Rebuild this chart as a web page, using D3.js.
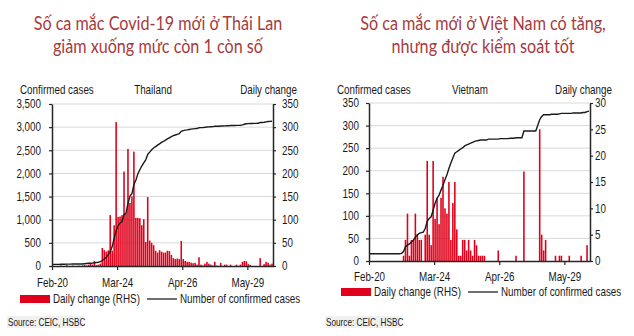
<!DOCTYPE html>
<html>
<head>
<meta charset="utf-8">
<script src="https://cdn.jsdelivr.net/npm/d3@7"></script>
<style>
  body { margin: 0; background: #fff; }
  svg text { font-family: "Liberation Sans", Arial, sans-serif; fill: #1a1a1a; }
  svg text.title { font-family: Lato, "Noto Sans", sans-serif; fill: #a63a3d; }
</style>
</head>
<body>
<svg id="chart" width="634" height="336"></svg>
<script>
// first day of both series, and where the x axis ends
const startDate = new Date(2020, 1, 20);
const endDate = new Date(2020, 5, 11);
const tickDates = [new Date(2020, 1, 20), new Date(2020, 2, 24), new Date(2020, 3, 26), new Date(2020, 4, 29)];

// Thailand, one value per day from Feb-20
const thaiDaily = [
  0, 0, 0, 0, 1, 0, 0, 2, 0, 0,
  1, 0, 0, 1, 0, 1, 2, 1, 3, 5,
  3, 11, 2, 3, 5, 39, 34, 31, 34, 110,
  33, 88, 311, 106, 107, 110, 204, 113, 253, 136,
  150, 247, 104, 104, 103, 88, 101, 52, 149, 55,
  50, 45, 33, 29, 34, 31, 29, 29, 33, 32,
  24, 17, 15, 16, 15, 54, 15, 11, 9, 9,
  7, 6, 7, 3, 19, 3, 1, 5, 9, 5,
  3, 1, 9, 1, 0, 7, 0, 3, 3, 0,
  3, 0, 0, 3, 0, 3, 9, 11, 10, 4,
  2, 0, 0, 0, 0, 17, 0, 4, 9, 7,
  3, 5
];
const thaiConfirmed = [
  35, 35, 35, 35, 37, 37, 37, 40, 40, 40,
  42, 42, 42, 44, 44, 44, 50, 55, 58, 60,
  62, 70, 75, 82, 93, 118, 150, 190, 240, 310,
  420, 600, 760, 870, 930, 960, 1110, 1140, 1350, 1510,
  1560, 1760, 1850, 1990, 2080, 2160, 2230, 2290, 2410, 2460,
  2510, 2550, 2580, 2610, 2640, 2670, 2690, 2720, 2745, 2770,
  2795, 2815, 2830, 2845, 2860, 2910, 2925, 2935, 2942, 2950,
  2957, 2963, 2968, 2970, 2988, 2990, 2991, 2995, 3002, 3006,
  3010, 3012, 3018, 3019, 3019, 3025, 3025, 3028, 3031, 3031,
  3034, 3034, 3035, 3038, 3038, 3042, 3050, 3062, 3072, 3076,
  3078, 3080, 3081, 3082, 3083, 3100, 3101, 3105, 3114, 3121,
  3125, 3128
];

// Vietnam, one value per day from Feb-20
const vietDaily = [
  0, 0, 0, 0, 0, 0, 0, 0, 0, 0,
  0, 0, 0, 0, 0, 0, 0, 1, 4, 9,
  1, 4, 4, 9, 5, 4, 4, 0, 5, 19,
  5, 3, 19, 8, 12, 7, 12, 16, 10, 9,
  15, 4, 11, 15, 6, 1, 1, 4, 4, 2,
  4, 2, 1, 4, 3, 1, 1, 1, 1, 0,
  0, 0, 0, 0, 0, 2, 0, 0, 0, 0,
  0, 0, 0, 0, 1, 0, 0, 0, 17, 0,
  0, 0, 0, 0, 0, 0, 25, 5, 2, 4,
  0, 0, 0, 0, 1, 0, 1, 1, 0, 0,
  0, 1, 0, 0, 0, 0, 0, 1, 0, 0,
  3, 0
];
const vietConfirmed = [
  16, 16, 16, 16, 16, 16, 16, 16, 16, 16,
  16, 16, 16, 16, 16, 16, 17, 21, 32, 35,
  38, 42, 46, 53, 58, 61, 63, 64, 72, 88,
  94, 98, 113, 128, 139, 146, 157, 168, 180, 191,
  205, 217, 228, 239, 242, 245, 248, 251, 255, 257,
  259, 261, 263, 265, 266, 267, 268, 268, 268, 268,
  270, 270, 270, 270, 270, 270, 271, 271, 271, 271,
  271, 272, 272, 272, 273, 273, 273, 273, 288, 288,
  288, 288, 288, 288, 288, 300, 313, 320, 324, 324,
  324, 324, 325, 325, 325, 325, 326, 327, 327, 327,
  327, 327, 327, 328, 328, 328, 328, 328, 329, 329,
  331, 332
];

const thaiLeftTicks = [0, 500, 1000, 1500, 2000, 2500, 3000, 3500];
const thaiRightTicks = [0, 50, 100, 150, 200, 250, 300, 350];
const vietLeftTicks = [0, 50, 100, 150, 200, 250, 300, 350];
const vietRightTicks = [0, 5, 10, 15, 20, 25, 30];

const barColor = "#e0001b";
const lineColor = "#1a1a1a";
const axisColor = "#262626";

const svg = d3.select("#chart");

const panels = [
  {
    title: ["Số ca mắc Covid-19 mới ở Thái Lan", "giảm xuống mức còn 1 còn số"],
    titleX: 158,
    name: "Thailand", nameX: 153,
    left: 52, right: 273, top: 104, bottom: 266,
    daily: thaiDaily, confirmed: thaiConfirmed,
    leftTicks: thaiLeftTicks, rightTicks: thaiRightTicks,
    leftPad: 8, rightPad: 6, xPad: 8,
    headLeft: 20, headRight: 297,
    legendY: 299, legendX: 20,
    sourceX: 8
  },
  {
    title: ["Số ca mắc mới ở Việt Nam có tăng,", "nhưng được kiểm soát tốt"],
    titleX: 483,
    name: "Vietnam", nameX: 470,
    left: 369, right: 590, top: 103, bottom: 261,
    daily: vietDaily, confirmed: vietConfirmed,
    leftTicks: vietLeftTicks, rightTicks: vietRightTicks,
    leftPad: 7, rightPad: 2, xPad: 7,
    headLeft: 337, headRight: 612,
    legendY: 292, legendX: 341,
    sourceX: 326
  }
];

function drawPanel(p) {
  const g = svg.append("g");

  const x = d3.scaleTime().domain([startDate, endDate]).range([p.left, p.right]);
  const yL = d3.scaleLinear().domain([0, d3.max(p.leftTicks)]).range([p.bottom, p.top]);
  const yR = d3.scaleLinear().domain([0, d3.max(p.rightTicks)]).range([p.bottom, p.top]);
  const days = p.daily.map((v, i) => d3.timeDay.offset(startDate, i));
  const dayW = x(d3.timeDay.offset(startDate, 1)) - x(startDate);

  // title, two centred lines
  g.selectAll("text.title").data(p.title).join("text")
    .attr("class", "title")
    .attr("x", p.titleX).attr("y", (d, i) => 30 + i * 23)
    .attr("text-anchor", "middle").style("font-size", "19px")
    .text(d => d);

  // header row above the plot
  const head = g.append("g").style("font-size", "12px");
  head.append("text").attr("x", p.headLeft).attr("y", 94).text("Confirmed cases");
  head.append("text").attr("x", p.nameX).attr("y", 94).attr("text-anchor", "middle").text(p.name);
  head.append("text").attr("x", p.headRight).attr("y", 94).attr("text-anchor", "end").text("Daily change");

  // horizontal gridlines on the left-axis ticks
  g.append("g").selectAll("line").data(p.leftTicks.slice(1)).join("line")
    .attr("x1", p.left).attr("x2", p.right)
    .attr("y1", d => yL(d)).attr("y2", d => yL(d))
    .attr("stroke", "#d9d9d9").attr("stroke-width", 1);

  // daily change bars (right axis)
  g.append("g").selectAll("rect").data(p.daily).join("rect")
    .attr("x", (d, i) => x(days[i]) + 0.2)
    .attr("width", dayW * 0.8)
    .attr("y", d => yR(d))
    .attr("height", d => p.bottom - yR(d))
    .attr("fill", barColor);

  // confirmed cases line (left axis)
  const line = d3.line()
    .x((d, i) => x(days[i]) + dayW / 2)
    .y(d => yL(d));
  g.append("path").datum(p.confirmed)
    .attr("d", line)
    .attr("fill", "none")
    .attr("stroke", lineColor)
    .attr("stroke-width", 1.4);

  // axes
  const styleAxis = sel => {
    sel.attr("font-family", null).attr("font-size", null).style("font-size", "12px");
    sel.selectAll("path.domain").attr("stroke", axisColor).attr("stroke-width", 1.5);
    sel.selectAll(".tick line").attr("stroke", axisColor).attr("stroke-width", 1.2);
    sel.selectAll(".tick text").attr("fill", "#1a1a1a");
  };

  g.append("g")
    .attr("transform", `translate(${p.left},0)`)
    .call(d3.axisLeft(yL).tickValues(p.leftTicks).tickFormat(d3.format(","))
      .tickSize(3).tickSizeOuter(0).tickPadding(p.leftPad))
    .call(styleAxis);

  g.append("g")
    .attr("transform", `translate(${p.right},0)`)
    .call(d3.axisRight(yR).tickValues(p.rightTicks)
      .tickSize(3).tickSizeOuter(0).tickPadding(p.rightPad))
    .call(styleAxis);

  g.append("g")
    .attr("transform", `translate(0,${p.bottom})`)
    .call(d3.axisBottom(x).tickValues(tickDates).tickFormat(d3.timeFormat("%b-%d"))
      .tickSize(4).tickSizeOuter(0).tickPadding(p.xPad))
    .call(styleAxis);

  // legend
  const leg = g.append("g").attr("transform", `translate(${p.legendX},${p.legendY})`).style("font-size", "12px");
  leg.append("rect").attr("x", 0).attr("y", -4).attr("width", 30).attr("height", 8).attr("fill", barColor);
  leg.append("text").attr("x", 33).attr("y", 4).text("Daily change (RHS)");
  leg.append("line").attr("x1", 127).attr("x2", 157).attr("y1", 0).attr("y2", 0)
    .attr("stroke", "#333").attr("stroke-width", 1.4);
  leg.append("text").attr("x", 160).attr("y", 4).text("Number of confirmed cases");

  // source note on a pale strip
  const src = g.append("g").attr("transform", `translate(${p.sourceX},322)`);
  src.append("rect").attr("x", -1).attr("y", -6).attr("width", 76).attr("height", 12).attr("fill", "#f0f0f0");
  src.append("text").attr("x", 0).attr("y", 3.5).style("font-size", "10px").text("Source: CEIC, HSBC");
}

panels.forEach(drawPanel);

// squeeze glyphs horizontally (narrow face for chart text, tighter title face)
function squeeze(sel, ratio) {
  sel.each(function () {
    const t = d3.select(this);
    const x0 = +t.attr("x") || 0;
    t.attr("x", x0 / ratio).attr("transform", `scale(${ratio},1)`);
  });
}
squeeze(svg.selectAll("text:not(.title)"), 0.82);
squeeze(svg.selectAll("text.title"), 0.85);
</script>
</body>
</html>
